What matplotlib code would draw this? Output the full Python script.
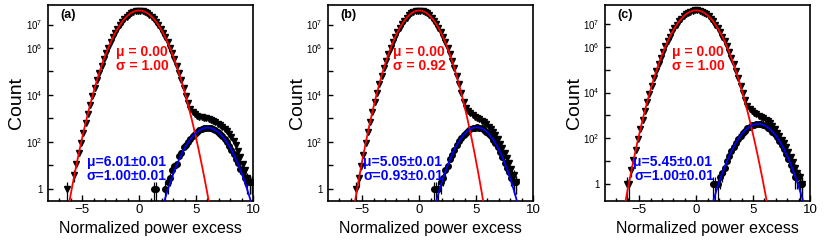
import numpy as np
import matplotlib
matplotlib.use("Agg")
from matplotlib import pyplot as plt

plt.rcParams['font.family'] = ['Liberation Sans', 'DejaVu Sans']
plt.rcParams['mathtext.fontset'] = 'custom'
plt.rcParams['mathtext.rm'] = 'Liberation Sans'
plt.rcParams['mathtext.it'] = 'Liberation Sans:italic'
plt.rcParams['mathtext.bf'] = 'Liberation Sans:bold'

# binning of the histograms
bin_width = 0.2

# total counts (black triangles), first bin centre + counts
total_start = [-6.3, -5.5, -6.1]
total_a = [1, 0, 0, 4, 11, 32, 89, 245, 630, 1590,
           3850, 8900, 19800, 42000, 87000, 172000, 325000, 590000, 1.04e6, 1.75e6,
           2.83e6, 4.4e6, 6.6e6, 9.4e6, 1.29e7, 1.71e7, 2.18e7, 2.65e7, 3.12e7, 3.51e7,
           3.8e7, 3.96e7, 3.96e7, 3.8e7, 3.51e7, 3.12e7, 2.65e7, 2.18e7, 1.71e7, 1.29e7,
           9.4e6, 6.6e6, 4.4e6, 2.83e6, 1.75e6, 1.04e6, 5.9e5, 3.25e5, 1.72e5, 8.7e4,
           4.3e4, 2.0e4, 9300, 4600, 2500, 1780, 1480, 1320, 1200, 1120,
           1050, 1000, 910, 850, 775, 690, 600, 525, 436, 355,
           282, 214, 158, 112, 71, 40, 22, 11, 6, 3,
           2, 2]
total_b = [1, 3, 9, 28, 86, 255, 720, 1950, 5000, 12300,
           28800, 64500, 136000, 277000, 537000, 1.0e6, 1.75e6, 2.94e6, 4.72e6, 7.2e6,
           1.05e7, 1.47e7, 1.95e7, 2.47e7, 2.98e7, 3.44e7, 3.78e7, 3.95e7, 3.95e7, 3.78e7,
           3.44e7, 2.98e7, 2.47e7, 1.95e7, 1.47e7, 1.05e7, 7.2e6, 4.72e6, 2.94e6, 1.75e6,
           1.0e6, 537000, 277000, 136000, 64500, 28800, 12300, 5200, 2800, 2000,
           1660, 1410, 1200, 1050, 910, 795, 676, 562, 447, 355,
           263, 186, 126, 83, 52, 32, 20, 12, 7, 4,
           2]
total_c = [1, 1, 4, 11, 32, 89, 245, 630, 1590, 3850,
           8900, 19800, 42000, 87000, 172000, 325000, 590000, 1.04e6, 1.75e6, 2.83e6,
           4.4e6, 6.6e6, 9.4e6, 1.29e7, 1.71e7, 2.18e7, 2.65e7, 3.12e7, 3.51e7, 3.8e7,
           3.96e7, 3.96e7, 3.8e7, 3.51e7, 3.12e7, 2.65e7, 2.18e7, 1.71e7, 1.29e7, 9.4e6,
           6.6e6, 4.4e6, 2.83e6, 1.75e6, 1.04e6, 5.9e5, 3.25e5, 1.72e5, 8.7e4, 4.3e4,
           2.0e4, 9300, 4570, 2630, 1900, 1510, 1260, 1100, 980, 870,
           760, 660, 550, 447, 339, 245, 174, 126, 87, 60,
           40, 25, 15, 9, 5, 3, 2, 1]

# signal counts (black circles)
signal_start = [1.3, 1.3, 1.5]
signal_a = [1, 1, 0, 0, 0, 1, 2, 3, 6, 9,
            11, 25, 35, 60, 71, 95, 126, 170, 214, 263,
            309, 347, 380, 398, 398, 380, 355, 316, 269, 219,
            174, 132, 95, 66, 45, 29, 18, 13, 7, 5,
            3, 2, 2, 2]
signal_b = [1, 1, 1, 2, 3, 6, 9, 19, 28, 47,
            71, 105, 145, 195, 245, 302, 347, 389, 407, 417,
            398, 372, 324, 275, 219, 170, 123, 87, 58, 37,
            22, 13, 8, 5, 3, 2, 2]
signal_c = [1, 1, 1, 2, 3, 5, 10, 17, 27, 43,
            63, 93, 129, 170, 219, 269, 324, 363, 398, 422,
            427, 417, 389, 347, 295, 245, 195, 148, 110, 78,
            52, 34, 21, 13, 7, 4, 2, 2, 1, 1]

# gaussian fit results
noise_mu = [0.00, 0.00, 0.00]
noise_sigma = [1.00, 0.92, 1.00]
noise_amp = [3.96e7, 3.95e7, 3.96e7]
sig_mu = [6.01, 5.05, 5.45]
sig_sigma = [1.00, 0.93, 1.00]
sig_amp = [400, 417, 427]
sig_err = [0.01, 0.01, 0.01]

tags = ['(a)', '(b)', '(c)']
y_bottom = [0.30, 0.30, 0.18]
y_top = 6.8e7

# layout in pixels (figure 830 x 252)
W, H = 830, 252
ax_left = [48, 328, 605]
ax_width = 205
ax_top, ax_bottom = 5, 201
red_text_x = [0.332, 0.317, 0.325]
blue_text_x = [0.19, 0.171, 0.136]

totals = [total_a, total_b, total_c]
signals = [signal_a, signal_b, signal_c]


def draw_points(ax, start, counts, marker, size):
    counts = np.asarray(counts, dtype=float)
    x = start + bin_width * np.arange(len(counts))
    keep = counts > 0
    x, n = x[keep], counts[keep]
    err = np.sqrt(n)
    lo = np.minimum(err, n - 1e-3)
    ax.errorbar(x, n, yerr=[lo, err], fmt=marker, color='black',
                markersize=size, ecolor='black', elinewidth=0.9,
                capsize=0, linestyle='none', zorder=2)


fig = plt.figure(figsize=(W / 100, H / 100), dpi=100)
xs = np.linspace(-8, 10, 800)

for i in range(3):
    ax = fig.add_axes([ax_left[i] / W, (H - ax_bottom) / H,
                       ax_width / W, (ax_bottom - ax_top) / H])
    ax.set_yscale('log')

    draw_points(ax, total_start[i], totals[i], 'v', 4.2)
    draw_points(ax, signal_start[i], signals[i], 'o', 4.0)

    red = noise_amp[i] * np.exp(-0.5 * ((xs - noise_mu[i]) / noise_sigma[i]) ** 2)
    blue = sig_amp[i] * np.exp(-0.5 * ((xs - sig_mu[i]) / sig_sigma[i]) ** 2)
    ax.plot(xs, red, color='red', lw=1.3, zorder=3)
    ax.plot(xs, blue, color='blue', lw=1.3, zorder=3)

    ax.set_xlim(-8, 10)
    ax.set_ylim(y_bottom[i], y_top)

    # axis styling, ROOT-like
    for s in ax.spines.values():
        s.set_linewidth(1.2)
    ax.set_xticks([-5, 0, 5, 10])
    ax.set_xticks(np.arange(-7, 11, 1), minor=True)
    ax.set_xticklabels(['\u22125', '0', '5', '10'])
    ax.set_yticks([1, 1e1, 1e2, 1e3, 1e4, 1e5, 1e6, 1e7])
    ax.set_yticklabels(['1', '', '$10^{2}$', '', '$10^{4}$', '', '$10^{6}$', '$10^{7}$'])
    ax.yaxis.set_minor_locator(matplotlib.ticker.NullLocator())
    ax.tick_params(axis='x', which='major', direction='in', length=4.5, width=1,
                   labelsize=9.5, pad=2.5, top=False)
    ax.tick_params(axis='x', which='minor', direction='in', length=2.2, width=1, top=False)
    ax.tick_params(axis='y', which='major', direction='in', length=3.8, width=1,
                   labelsize=7, pad=4, right=False)

    ax.text(0.5, (ax_bottom - 228) / (ax_bottom - ax_top), 'Normalized power excess',
            transform=ax.transAxes, ha='center', va='center', fontsize=11.5)
    fig.text((ax_left[i] - 31) / W, 1 - 103 / H, 'Count', rotation=90,
             ha='center', va='center', fontsize=14)

    ax.text(0.06, 0.949, tags[i], transform=ax.transAxes, ha='left', va='center',
            fontsize=9, fontweight='bold')
    ax.text(red_text_x[i], 0.760, '\u03bc = %.2f' % noise_mu[i], transform=ax.transAxes,
            ha='left', va='center', fontsize=10, fontweight='bold', color='red')
    ax.text(red_text_x[i], 0.689, '\u03c3 = %.2f' % noise_sigma[i], transform=ax.transAxes,
            ha='left', va='center', fontsize=10, fontweight='bold', color='red')
    ax.text(blue_text_x[i], 0.199, '\u03bc=%.2f\u00b1%.2f' % (sig_mu[i], sig_err[i]),
            transform=ax.transAxes, ha='left', va='center', fontsize=10,
            fontweight='bold', color='blue')
    ax.text(blue_text_x[i] + (0.01 if i == 2 else 0.0), 0.128,
            '\u03c3=%.2f\u00b1%.2f' % (sig_sigma[i], sig_err[i]),
            transform=ax.transAxes, ha='left', va='center', fontsize=10,
            fontweight='bold', color='blue')

fig.savefig('out.png', dpi=100)
